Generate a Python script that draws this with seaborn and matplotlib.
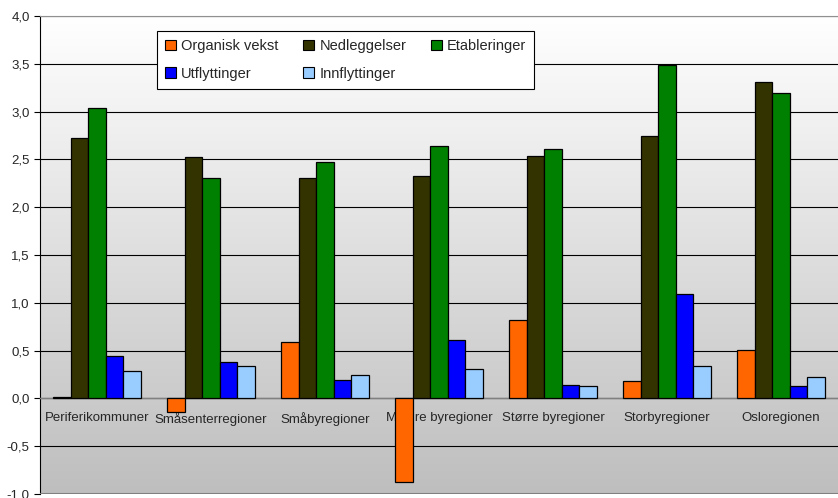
import numpy as np
import pandas as pd
import matplotlib
matplotlib.use("Agg")
import matplotlib.pyplot as plt
import seaborn as sns
from matplotlib.ticker import FuncFormatter, FixedLocator

regions = ["Periferikommuner", "Småsenterregioner", "Småbyregioner", "Mindre byregioner",
           "Større byregioner", "Storbyregioner", "Osloregionen"]
series = ["Organisk vekst", "Nedleggelser", "Etableringer", "Utflyttinger", "Innflyttinger"]
organisk = [0.01, -0.14, 0.59, -0.87, 0.82, 0.18, 0.51]
nedleggelser = [2.72, 2.52, 2.31, 2.33, 2.54, 2.74, 3.31]
etableringer = [3.04, 2.31, 2.47, 2.64, 2.61, 3.49, 3.19]
utflyttinger = [0.44, 0.38, 0.19, 0.61, 0.14, 1.09, 0.13]
innflyttinger = [0.29, 0.34, 0.24, 0.31, 0.13, 0.34, 0.22]
colors = ["#FF6600", "#333300", "#008000", "#0000FF", "#99CCFF"]

values = [organisk, nedleggelser, etableringer, utflyttinger, innflyttinger]
df = pd.DataFrame([
    {"region": r, "serie": s, "verdi": v[i]}
    for s, v in zip(series, values) for i, r in enumerate(regions)
])

sns.set_style("white")
plt.rcParams["font.family"] = ["Liberation Sans", "DejaVu Sans"]

fig = plt.figure(figsize=(8.38, 4.98), dpi=100)
ax = fig.add_axes([40 / 838, 4 / 498, 798 / 838, 478 / 498])

# gradient background (white at top -> gray at bottom)
grad = np.linspace(0.0, 1.0, 256).reshape(-1, 1)
cmap = matplotlib.colors.LinearSegmentedColormap.from_list("g", ["#FFFFFF", "#BEBEBE"])
ax.imshow(grad, extent=[0, 1, 0, 1], transform=ax.transAxes, aspect="auto",
          cmap=cmap, zorder=0)

sns.barplot(data=df, x="region", y="verdi", hue="serie", hue_order=series, order=regions,
            palette=colors, width=0.77, gap=0, edgecolor="black", linewidth=0.9,
            saturation=1, ax=ax, zorder=3)

ax.set_ylim(-1.0, 4.0)
ax.set_xlim(-0.5, 6.5)
ax.set_yticks(np.arange(-1.0, 4.01, 0.5))
ax.yaxis.set_major_formatter(FuncFormatter(lambda v, p: f"{v:.1f}".replace(".", ",")))
ax.grid(axis="y", color="black", linewidth=0.8, zorder=1)
ax.set_axisbelow(True)
ax.set_xlabel("")
ax.set_ylabel("")

ax.spines["bottom"].set_position(("data", 0))
ax.spines["bottom"].set_color("#808080")
ax.spines["bottom"].set_linewidth(1.0)
ax.spines["left"].set_color("black")
ax.spines["top"].set_color("#909090")
ax.spines["right"].set_visible(False)

ax.tick_params(axis="x", which="major", length=0, pad=10, labelsize=9.5)
ax.xaxis.set_minor_locator(FixedLocator(np.arange(0.5, 6.0, 1.0)))
ax.tick_params(axis="x", which="minor", length=4, color="#808080", direction="out")
ax.tick_params(axis="y", length=4, direction="out", labelsize=9.5, left=True, color="black")

# outer border line at bottom
ax.axhline(-1.0, color="#808080", linewidth=1.5, zorder=4)

# legend filled row by row like the original
handles, labels = ax.get_legend_handles_labels()
order = [0, 3, 1, 4, 2]
leg = ax.legend([handles[i] for i in order], [labels[i] for i in order],
                loc="upper left", bbox_to_anchor=(0.1466, 0.9686), borderaxespad=0,
                ncol=3, frameon=True, fancybox=False, edgecolor="black", fontsize=10.5,
                handlelength=0.75, handleheight=0.75, handletextpad=0.35, columnspacing=1.7,
                borderpad=0.55, labelspacing=0.95)
leg.get_frame().set_linewidth(0.8)
leg.get_frame().set_facecolor("white")
leg.get_frame().set_alpha(1)
for h in leg.legend_handles:
    h.set_edgecolor("black")
    h.set_linewidth(0.8)

fig.savefig("out.png", dpi=100)
